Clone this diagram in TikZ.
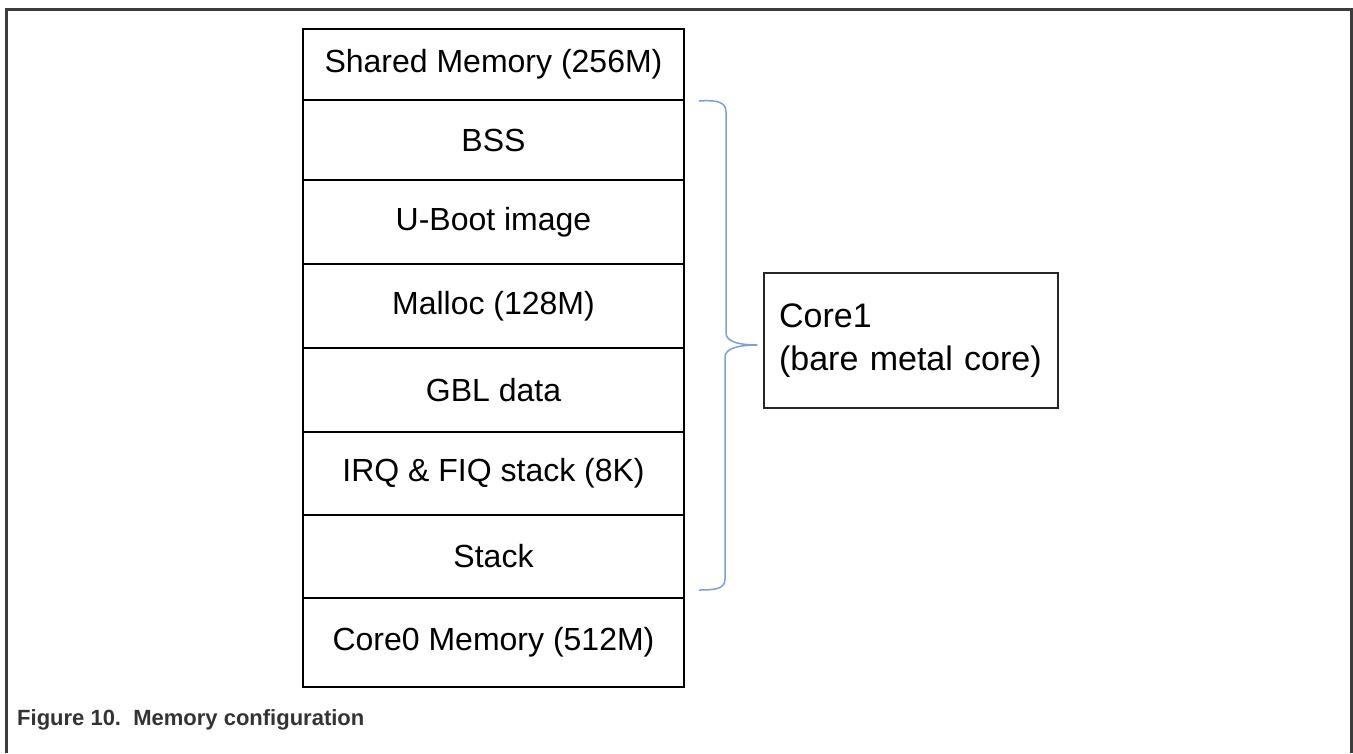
\documentclass[tikz,border=0pt]{standalone}
\usepackage{fontspec}
\setmainfont{Liberation Sans}
\definecolor{framegray}{HTML}{3C3C3C}
\definecolor{braceblue}{HTML}{7A9FDE}
\definecolor{capgray}{HTML}{333333}
\begin{document}
\begin{tikzpicture}[x=1pt,y=-1pt,
  rowbox/.style={draw=black,line width=2pt,minimum width=381pt,inner sep=0pt,
    font=\fontsize{32}{38}\selectfont},
  corebox/.style={draw=black!85,line width=2.2pt,anchor=north west,inner xsep=15pt,
    text width=264pt,minimum height=135pt,align=left,
    font=\fontsize{34}{43}\selectfont},
  captext/.style={anchor=base west,inner sep=0pt,text=capgray,
    font=\fontsize{22}{26}\selectfont\bfseries}]
\useasboundingbox (0,0) rectangle (1353,753);
% outer frame (open at bottom)
\draw[framegray,line width=3pt] (6,753) -- (6,9) -- (1351,9) -- (1351,753);
% memory stack
\node[rowbox,minimum height=71pt] (r1) at (493.5,64.5) {Shared Memory (256M)};
\node[rowbox,minimum height=80pt] (r2) at (493.5,140) {BSS};
\node[rowbox,minimum height=84pt] (r3) at (493.5,222) {U-Boot image};
\node[rowbox,minimum height=84pt] (r4) at (493.5,306) {Malloc (128M)};
\node[rowbox,minimum height=84pt] (r5) at (493.5,390) {GBL data};
\node[rowbox,minimum height=83pt] (r6) at (493.5,473.5) {IRQ \& FIQ stack (8K)};
\node[rowbox,minimum height=83pt] (r7) at (493.5,556.5) {Stack};
\node[rowbox,minimum height=89pt] (r8) at (493.5,642.5) {Core0 Memory (512M)};
% core1 box
\node[corebox] (core) at (763,272) {Core1\\(bare metal core)};
% brace
\coordinate (btop) at (699,101);
\coordinate (bmid) at (757,345);
\coordinate (bbot) at (699,590);
\draw[braceblue,line width=1.5pt,line join=round]
  (btop) .. controls (715,100) and (726,101) .. (726,112)
  -- (726,333) .. controls (726,342) and (740,345) .. (bmid)
  .. controls (740,345) and (725,348) .. (725,357)
  -- (725,579) .. controls (725,589) and (715,590) .. (bbot);
% caption
\node[captext] (cap) at (17,725) {Figure 10.\ \ Memory configuration};
\end{tikzpicture}
\end{document}
